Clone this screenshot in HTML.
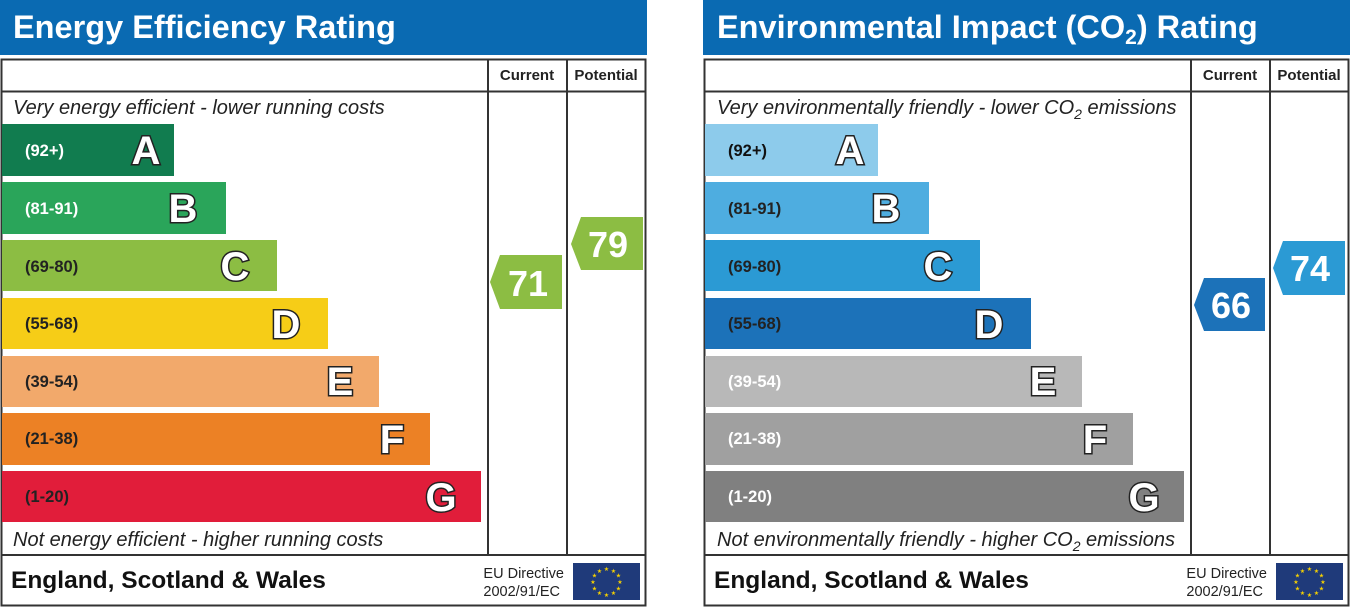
<!DOCTYPE html>
<html><head><meta charset="utf-8"><style>
html,body{margin:0;padding:0;background:#fff;}
svg{display:block;font-family:"Liberation Sans",sans-serif;}
.lt{font-weight:bold;font-size:40px;fill:#fff;stroke:#222;stroke-width:3px;paint-order:stroke;}
.rg{font-weight:bold;font-size:16.5px;}
.it{font-style:italic;font-size:20px;fill:#222;}
.hd{font-weight:bold;font-size:15px;fill:#222;}
.tt{font-weight:bold;font-size:32.5px;fill:#fff;}
.ft{font-weight:bold;font-size:24.5px;fill:#111;}
.eu{font-size:14.5px;fill:#222;}
.num{font-weight:bold;font-size:36px;fill:#fff;}
</style></head><body>
<svg width="1350" height="607" viewBox="0 0 1350 607" xmlns="http://www.w3.org/2000/svg">
<defs>
<g id="flag">
<rect x="0" y="0" width="67" height="37" fill="#1f3a7a"/>
<g fill="#f5d000" font-size="6" text-anchor="middle">
<text x="33.5" y="8">★</text><text x="40.5" y="10">★</text><text x="45.5" y="14.5">★</text><text x="47" y="21">★</text><text x="45.5" y="27.5">★</text><text x="40.5" y="32">★</text><text x="33.5" y="34">★</text><text x="26.5" y="32">★</text><text x="21.5" y="27.5">★</text><text x="20" y="21">★</text><text x="21.5" y="14.5">★</text><text x="26.5" y="10">★</text>
</g>
</g>
<g id="frame">
<rect x="1.5" y="59.5" width="644" height="546" fill="#fff" stroke="#333" stroke-width="2"/>
<line x1="1" y1="91.5" x2="646" y2="91.5" stroke="#333" stroke-width="2"/>
<line x1="488" y1="59" x2="488" y2="555" stroke="#333" stroke-width="2"/>
<line x1="567" y1="59" x2="567" y2="555" stroke="#333" stroke-width="2"/>
<line x1="1" y1="555" x2="646" y2="555" stroke="#333" stroke-width="2"/>
<text class="hd" x="527" y="80" text-anchor="middle">Current</text>
<text class="hd" x="606" y="80" text-anchor="middle">Potential</text>
<text class="ft" x="11" y="588">England, Scotland &amp; Wales</text>
<text class="eu" x="564" y="578" text-anchor="end">EU Directive</text>
<text class="eu" x="560" y="596" text-anchor="end">2002/91/EC</text>
<use href="#flag" x="573" y="563"/>
</g>
</defs>

<!-- LEFT -->
<rect x="0" y="0" width="647" height="55" fill="#0a6ab2"/>
<text class="tt" x="13" y="38">Energy Efficiency Rating</text>
<use href="#frame"/>
<text class="it" x="13" y="114">Very energy efficient - lower running costs</text>
<text class="it" x="13" y="546">Not energy efficient - higher running costs</text>
<rect x="2" y="124" width="172" height="52" fill="#117c4f"/>
<rect x="2" y="182" width="224" height="52" fill="#2aa55a"/>
<rect x="2" y="240" width="275" height="51" fill="#8cbd43"/>
<rect x="2" y="298" width="326" height="51" fill="#f6cd17"/>
<rect x="2" y="356" width="377" height="51" fill="#f2a96b"/>
<rect x="2" y="413" width="428" height="52" fill="#ec8125"/>
<rect x="2" y="471" width="479" height="51" fill="#e11d3a"/>
<g class="rg">
<text x="25" y="156" fill="#fff">(92+)</text>
<text x="25" y="214" fill="#fff">(81-91)</text>
<text x="25" y="272" fill="#222">(69-80)</text>
<text x="25" y="329" fill="#222">(55-68)</text>
<text x="25" y="387" fill="#222">(39-54)</text>
<text x="25" y="444" fill="#222">(21-38)</text>
<text x="25" y="502" fill="#222">(1-20)</text>
</g>
<g class="lt" text-anchor="middle">
<text x="146" y="164">A</text><text x="183" y="222">B</text><text x="235" y="280">C</text>
<text x="286" y="338">D</text><text x="340" y="395">E</text><text x="392" y="453">F</text><text x="441" y="511">G</text>
</g>
<polygon points="490,282 500,255 562,255 562,309 500,309" fill="#8cbd43"/>
<text class="num" x="528" y="296" text-anchor="middle">71</text>
<polygon points="571,244 581,217 643,217 643,270 581,270" fill="#8cbd43"/>
<text class="num" x="608" y="257" text-anchor="middle">79</text>

<!-- RIGHT -->
<g transform="translate(703,0)">
<rect x="0" y="0" width="647" height="55" fill="#0a6ab2"/>
<text class="tt" x="14" y="38">Environmental Impact (CO<tspan font-size="21" dy="6">2</tspan><tspan dy="-6">) Rating</tspan></text>
<use href="#frame"/>
<text class="it" x="14" y="114">Very environmentally friendly - lower CO<tspan font-size="14" dy="5">2</tspan><tspan dy="-5"> emissions</tspan></text>
<text class="it" x="14" y="546">Not environmentally friendly - higher CO<tspan font-size="14" dy="5">2</tspan><tspan dy="-5"> emissions</tspan></text>
<rect x="2" y="124" width="173" height="52" fill="#8dcbeb"/>
<rect x="2" y="182" width="224" height="52" fill="#4eade0"/>
<rect x="2" y="240" width="275" height="51" fill="#2b9ad4"/>
<rect x="2" y="298" width="326" height="51" fill="#1c72b9"/>
<rect x="2" y="356" width="377" height="51" fill="#b8b8b8"/>
<rect x="2" y="413" width="428" height="52" fill="#a0a0a0"/>
<rect x="2" y="471" width="479" height="51" fill="#808080"/>
<g class="rg">
<text x="25" y="156" fill="#111">(92+)</text>
<text x="25" y="214" fill="#222">(81-91)</text>
<text x="25" y="272" fill="#222">(69-80)</text>
<text x="25" y="329" fill="#222">(55-68)</text>
<text x="25" y="387" fill="#fff">(39-54)</text>
<text x="25" y="444" fill="#fff">(21-38)</text>
<text x="25" y="502" fill="#fff">(1-20)</text>
</g>
<g class="lt" text-anchor="middle">
<text x="147" y="164">A</text><text x="183" y="222">B</text><text x="235" y="280">C</text>
<text x="286" y="338">D</text><text x="340" y="395">E</text><text x="392" y="453">F</text><text x="441" y="511">G</text>
</g>
<polygon points="491,305 501,278 562,278 562,331 501,331" fill="#1c72b9"/>
<text class="num" x="528" y="318" text-anchor="middle">66</text>
<polygon points="570,268 580,241 642,241 642,295 580,295" fill="#2b9ad4"/>
<text class="num" x="607" y="281" text-anchor="middle">74</text>
</g>
</svg>
</body></html>
